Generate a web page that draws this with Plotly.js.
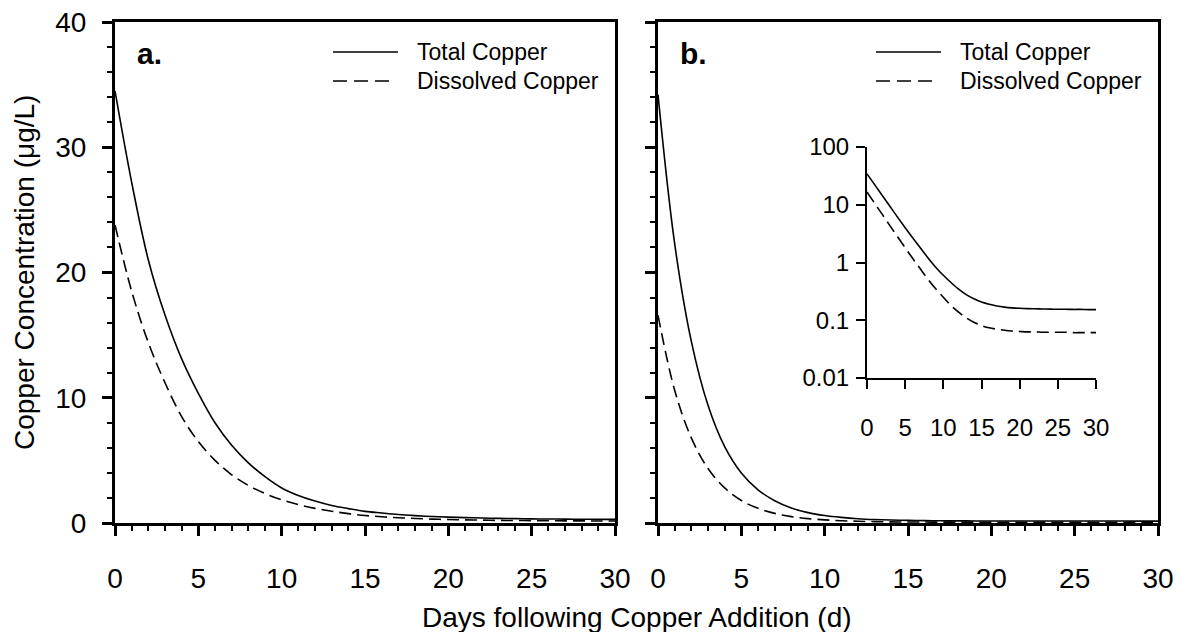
<!DOCTYPE html>
<html><head><meta charset="utf-8">
<script src="https://cdn.plot.ly/plotly-3.0.1.min.js"></script>
<style>html,body{margin:0;padding:0;background:#fff}#chart{width:1179px;height:632px}</style>
</head><body><div id="chart"></div>
<script>
// ---- data ----
const days = [0,1,2,3,4,5,6,7,8,9,10,11,12,13,14,15,16,17,18,19,20,21,22,23,24,25,26,27,28,29,30];
const totalA = [34.5,27.2,21.0,16.6,13.1,10.35,8.0,6.2,4.8,3.7,2.8,2.2,1.75,1.4,1.15,0.93,0.8,0.68,0.59,0.52,0.47,0.43,0.40,0.37,0.35,0.33,0.32,0.31,0.30,0.29,0.29];
const dissolvedA = [23.8,18.5,14.4,11.2,8.5,6.5,5.0,3.85,3.0,2.35,1.85,1.47,1.17,0.94,0.75,0.6,0.5,0.42,0.36,0.31,0.28,0.25,0.23,0.21,0.2,0.19,0.18,0.17,0.17,0.16,0.16];
const totalB = [34.2,22.3,14.5,9.4,6.1,4.0,2.65,1.78,1.2,0.83,0.6,0.45,0.345,0.278,0.235,0.207,0.189,0.177,0.169,0.164,0.161,0.159,0.158,0.157,0.156,0.155,0.155,0.154,0.154,0.153,0.153];
const dissolvedB = [16.6,10.6,6.8,4.35,2.8,1.8,1.17,0.77,0.51,0.35,0.25,0.18,0.138,0.11,0.092,0.081,0.074,0.07,0.067,0.065,0.064,0.063,0.063,0.062,0.062,0.062,0.062,0.061,0.061,0.061,0.061];
const seriesNames = ['Total Copper', 'Dissolved Copper'];
const panelLabels = ['a.', 'b.'];
const xTitle = 'Days following Copper Addition (d)';
const yTitle = 'Copper Concentration (\u03bcg/L)';
const logTickVals = [0.01, 0.1, 1, 10, 100];
const logTickText = ['0.01', '0.1', '1', '10', '100'];

// ---- styling ----
const W = 1179, H = 632;
const FONT = 'Liberation Sans, Arial, Helvetica, sans-serif';
const px = x => x / W;
const py = y => 1 - y / H;
const DASH = '12px,6px';
const LW = 1.6;

function line(x, y, dashed, xa, ya) {
  return {x: x, y: y, xaxis: xa, yaxis: ya, type: 'scatter', mode: 'lines',
    line: {color: '#000', width: LW, dash: dashed ? DASH : 'solid', shape: 'spline', smoothing: 1},
    hoverinfo: 'skip', showlegend: false};
}

const traces = [
  line(days, totalA, false, 'x', 'y'),
  line(days, dissolvedA, true, 'x', 'y'),
  line(days, totalB, false, 'x2', 'y2'),
  line(days, dissolvedB, true, 'x2', 'y2'),
  line(days, totalB, false, 'x3', 'y3'),
  line(days, dissolvedB, true, 'x3', 'y3')
];

const tickFont = {family: FONT, size: 28, color: '#000'};
const mainAxis = {showline: true, linewidth: 3, linecolor: '#000', mirror: true,
  ticks: 'outside', ticklen: 10, tickwidth: 3, tickcolor: '#000',
  showgrid: false, zeroline: false, tickfont: tickFont, fixedrange: true};
const minorX = {dtick: 1, ticks: 'outside', ticklen: 5, tickwidth: 2, tickcolor: '#000', showgrid: false};
const minorY = {dtick: 2, ticks: 'outside', ticklen: 5, tickwidth: 2, tickcolor: '#000', showgrid: false};
const insetFont = {family: FONT, size: 24, color: '#000'};

const panelA = [115, 615];
const panelB = [658, 1158];
const yTop = 22, yBot = 523;

const layout = {
  width: W, height: H,
  margin: {l: 0, r: 0, t: 0, b: 0},
  paper_bgcolor: '#fff', plot_bgcolor: 'rgba(0,0,0,0)',
  showlegend: false,
  xaxis: Object.assign({}, mainAxis, {domain: [px(panelA[0]), px(panelA[1])], range: [0, 30], tickmode: 'linear', tick0: 0, dtick: 5, minor: minorX, ticklabelstandoff: 18, anchor: 'y'}),
  yaxis: Object.assign({}, mainAxis, {domain: [py(yBot), py(yTop)], range: [0, 40], tickmode: 'linear', tick0: 0, dtick: 10, minor: minorY, ticklabelstandoff: 10, anchor: 'x'}),
  xaxis2: Object.assign({}, mainAxis, {domain: [px(panelB[0]), px(panelB[1])], range: [0, 30], tickmode: 'linear', tick0: 0, dtick: 5, minor: minorX, ticklabelstandoff: 18, anchor: 'y2'}),
  yaxis2: Object.assign({}, mainAxis, {domain: [py(yBot), py(yTop)], range: [0, 40], tickmode: 'linear', tick0: 0, dtick: 10, minor: minorY, showticklabels: false, anchor: 'x2'}),
  xaxis3: {domain: [px(867), px(1096)], range: [0, 30], tickmode: 'linear', tick0: 0, dtick: 5, anchor: 'y3',
    showline: true, linewidth: 2, linecolor: '#000', mirror: false, ticks: 'outside', ticklen: 9, tickwidth: 2, tickcolor: '#000',
    showgrid: false, zeroline: false, tickfont: insetFont, ticklabelstandoff: 18, fixedrange: true},
  yaxis3: {domain: [py(378), py(147)], type: 'log', range: [-2, 2], tickmode: 'array', tickvals: logTickVals, ticktext: logTickText, anchor: 'x3',
    showline: true, linewidth: 2, linecolor: '#000', mirror: false, ticks: 'outside', ticklen: 9, tickwidth: 2, tickcolor: '#000',
    showgrid: false, zeroline: false, tickfont: insetFont, ticklabelstandoff: 2, fixedrange: true},
  shapes: [],
  annotations: []
};

// legends and panel labels (one per panel)
[panelA, panelB].forEach(function (p, i) {
  const off = p[0] - panelA[0];
  layout.shapes.push({type: 'line', xref: 'paper', yref: 'paper', x0: px(333 + off), x1: px(398 + off), y0: py(52), y1: py(52), line: {color: '#000', width: LW}});
  layout.shapes.push({type: 'line', xref: 'paper', yref: 'paper', x0: px(333 + off), x1: px(393 + off), y0: py(81), y1: py(81), line: {color: '#000', width: LW, dash: '14px,7px'}});
  layout.annotations.push({xref: 'paper', yref: 'paper', x: px(415 + off), y: py(52), xanchor: 'left', yanchor: 'middle', showarrow: false, text: seriesNames[0], font: {family: FONT, size: 23, color: '#000'}});
  layout.annotations.push({xref: 'paper', yref: 'paper', x: px(415 + off), y: py(81), xanchor: 'left', yanchor: 'middle', showarrow: false, text: seriesNames[1], font: {family: FONT, size: 23, color: '#000'}});
  layout.annotations.push({xref: 'paper', yref: 'paper', x: px(135 + off), y: py(53), xanchor: 'left', yanchor: 'middle', showarrow: false, text: '<b>' + panelLabels[i] + '</b>', font: {family: FONT, size: 30, color: '#000'}});
});

layout.annotations.push({xref: 'paper', yref: 'paper', x: px(637), y: py(617), xanchor: 'center', yanchor: 'middle', showarrow: false, text: xTitle, font: {family: FONT, size: 28, color: '#000'}});
layout.annotations.push({xref: 'paper', yref: 'paper', x: px(24), y: py(273), xanchor: 'center', yanchor: 'middle', showarrow: false, textangle: -90, text: yTitle, font: {family: FONT, size: 28, color: '#000'}});

Plotly.newPlot('chart', traces, layout, {displayModeBar: false, staticPlot: true});
</script>
</body></html>
